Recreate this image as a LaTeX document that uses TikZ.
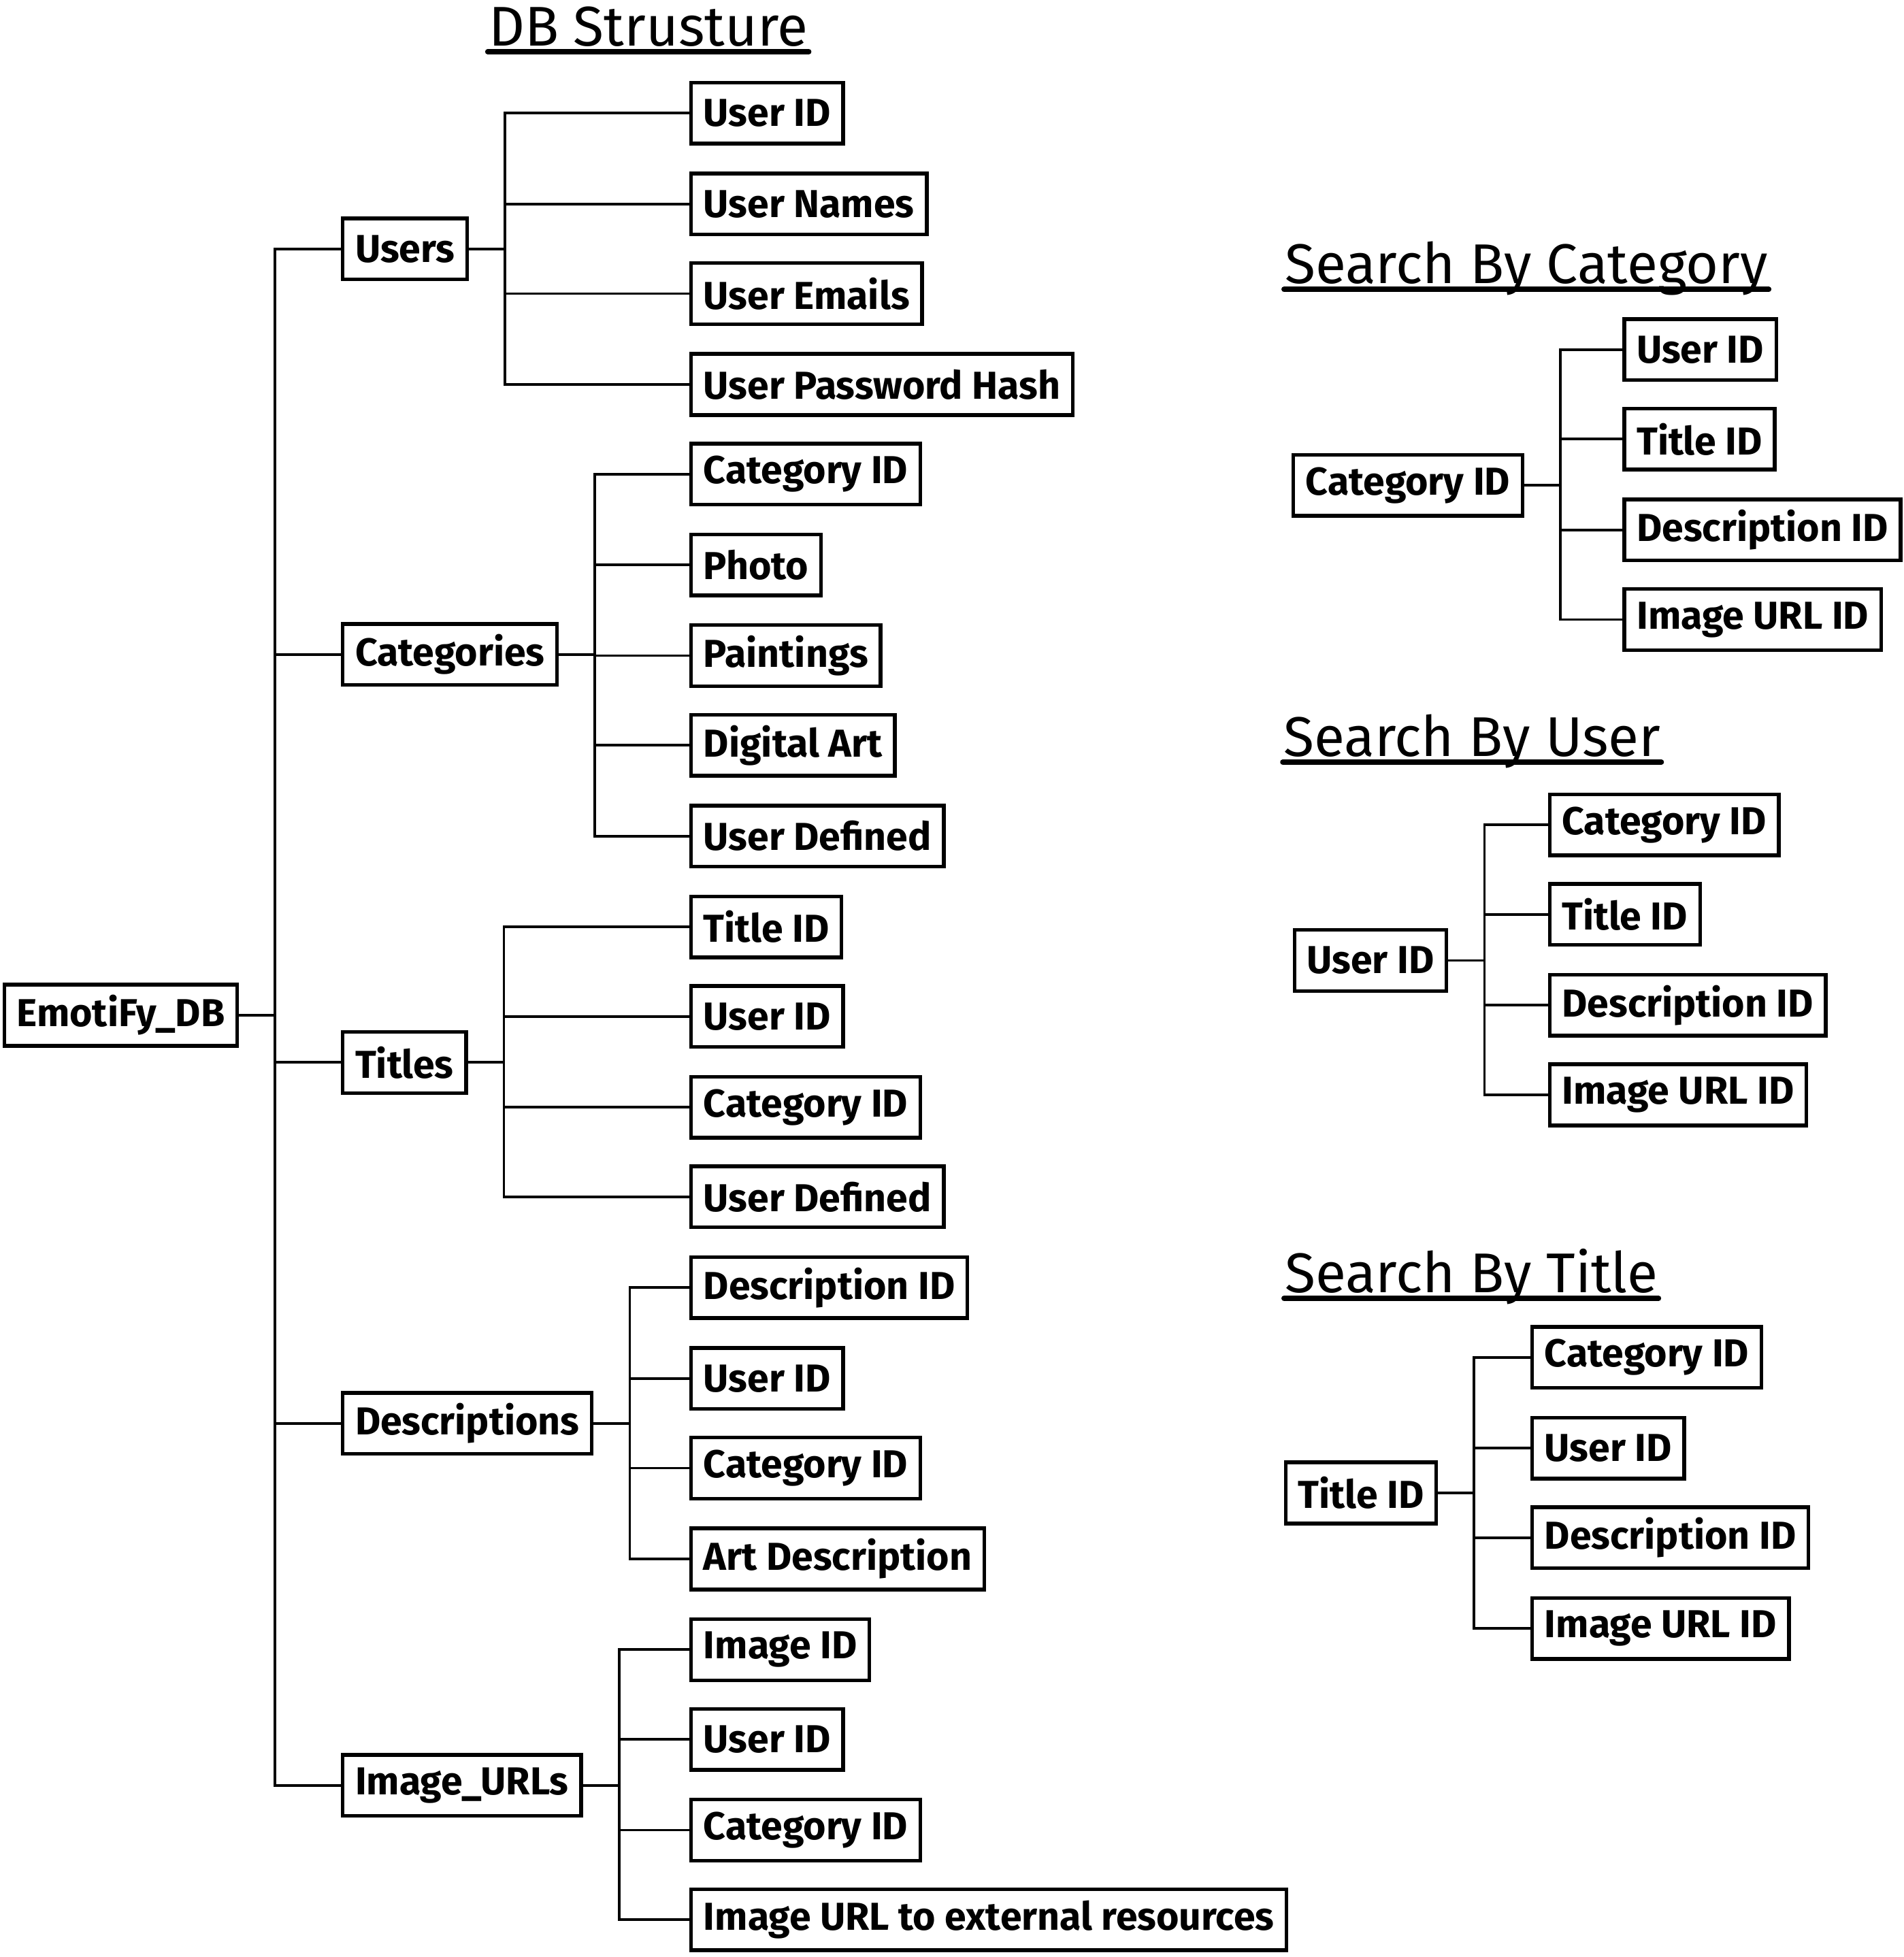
\documentclass[tikz,border=0pt]{standalone}
\usepackage{fontspec}
\setmainfont{Fira Sans}
\begin{document}
\begin{tikzpicture}[x=0.01cm,y=-0.01cm,
    box/.style={draw,line width=0.85pt,anchor=west,minimum height=0.49cm,
        inner xsep=0.1cm,inner ysep=0pt,font=\fontsize{8.9}{10}\selectfont\bfseries},
    link/.style={line width=0.6pt},
    heading/.style={anchor=base west,inner sep=0pt,font=\fontsize{12.8}{15}\selectfont}]
    \tikzstyle{underline}=[line width=1.2pt,line cap=round]
    \useasboundingbox (0,0) rectangle (1530,1573);

    % DB structure
    \node[heading] (dbtitle) at (392,37) {DB Strusture};
    \draw[underline] ([yshift=-1.3pt]dbtitle.base west) -- ([yshift=-1.3pt]dbtitle.base east);

    \node[box] (db) at (2,816) {EmotiFy\_DB};

    \node[box] (users) at (274,200) {Users};
    \node[box] (u1) at (554,91) {User ID};
    \node[box] (u2) at (554,164) {User Names};
    \node[box] (u3) at (554,236) {User Emails};
    \node[box] (u4) at (554,309) {User Password Hash};

    \node[box] (cats) at (274,526) {Categories};
    \node[box] (c1) at (554,381) {Category ID};
    \node[box] (c2) at (554,454) {Photo};
    \node[box] (c3) at (554,527) {Paintings};
    \node[box] (c4) at (554,599) {Digital Art};
    \node[box] (c5) at (554,672) {User Defined};

    \node[box] (titles) at (274,854) {Titles};
    \node[box] (t1) at (554,745) {Title ID};
    \node[box] (t2) at (554,817) {User ID};
    \node[box] (t3) at (554,890) {Category ID};
    \node[box] (t4) at (554,962) {User Defined};

    \node[box] (descs) at (274,1144) {Descriptions};
    \node[box] (d1) at (554,1035) {Description ID};
    \node[box] (d2) at (554,1108) {User ID};
    \node[box] (d3) at (554,1180) {Category ID};
    \node[box] (d4) at (554,1253) {Art Description};

    \node[box] (urls) at (274,1435) {Image\_URLs};
    \node[box] (i1) at (554,1326) {Image ID};
    \node[box] (i2) at (554,1398) {User ID};
    \node[box] (i3) at (554,1471) {Category ID};
    \node[box] (i4) at (554,1543) {Image URL to external resources};

    \foreach \c in {users,cats,titles,descs,urls}
        \draw[link] (db.east) -- ++(29,0) |- (\c.west);
    \foreach \c in {u1,u2,u3,u4}
        \draw[link] (users.east) -- ++(29,0) |- (\c.west);
    \foreach \c in {c1,c2,c3,c4,c5}
        \draw[link] (cats.east) -- ++(29,0) |- (\c.west);
    \foreach \c in {t1,t2,t3,t4}
        \draw[link] (titles.east) -- ++(29,0) |- (\c.west);
    \foreach \c in {d1,d2,d3,d4}
        \draw[link] (descs.east) -- ++(29,0) |- (\c.west);
    \foreach \c in {i1,i2,i3,i4}
        \draw[link] (urls.east) -- ++(29,0) |- (\c.west);

    % search by category
    \node[heading] (sctitle) at (1032,228) {Search By Category};
    \draw[underline] ([yshift=-1.3pt]sctitle.base west) -- ([yshift=-1.3pt]sctitle.base east);
    \node[box] (sc) at (1038,390) {Category ID};
    \node[box] (sc1) at (1304,281) {User ID};
    \node[box] (sc2) at (1304,353) {Title ID};
    \node[box] (sc3) at (1304,426) {Description ID};
    \node[box] (sc4) at (1304,498) {Image URL ID};
    \foreach \c in {sc1,sc2,sc3,sc4}
        \draw[link] (sc.east) -- ++(29,0) |- (\c.west);

    % search by user
    \node[heading] (sutitle) at (1031,608) {Search By User};
    \draw[underline] ([yshift=-1.3pt]sutitle.base west) -- ([yshift=-1.3pt]sutitle.base east);
    \node[box] (su) at (1039,772) {User ID};
    \node[box] (su1) at (1244,663) {Category ID};
    \node[box] (su2) at (1244,735) {Title ID};
    \node[box] (su3) at (1244,808) {Description ID};
    \node[box] (su4) at (1244,880) {Image URL ID};
    \foreach \c in {su1,su2,su3,su4}
        \draw[link] (su.east) -- ++(29,0) |- (\c.west);

    % search by title
    \node[heading] (sttitle) at (1032,1039) {Search By Title};
    \draw[underline] ([yshift=-1.3pt]sttitle.base west) -- ([yshift=-1.3pt]sttitle.base east);
    \node[box] (st) at (1032,1200) {Title ID};
    \node[box] (st1) at (1230,1091) {Category ID};
    \node[box] (st2) at (1230,1164) {User ID};
    \node[box] (st3) at (1230,1236) {Description ID};
    \node[box] (st4) at (1230,1309) {Image URL ID};
    \foreach \c in {st1,st2,st3,st4}
        \draw[link] (st.east) -- ++(29,0) |- (\c.west);

\end{tikzpicture}
\end{document}
